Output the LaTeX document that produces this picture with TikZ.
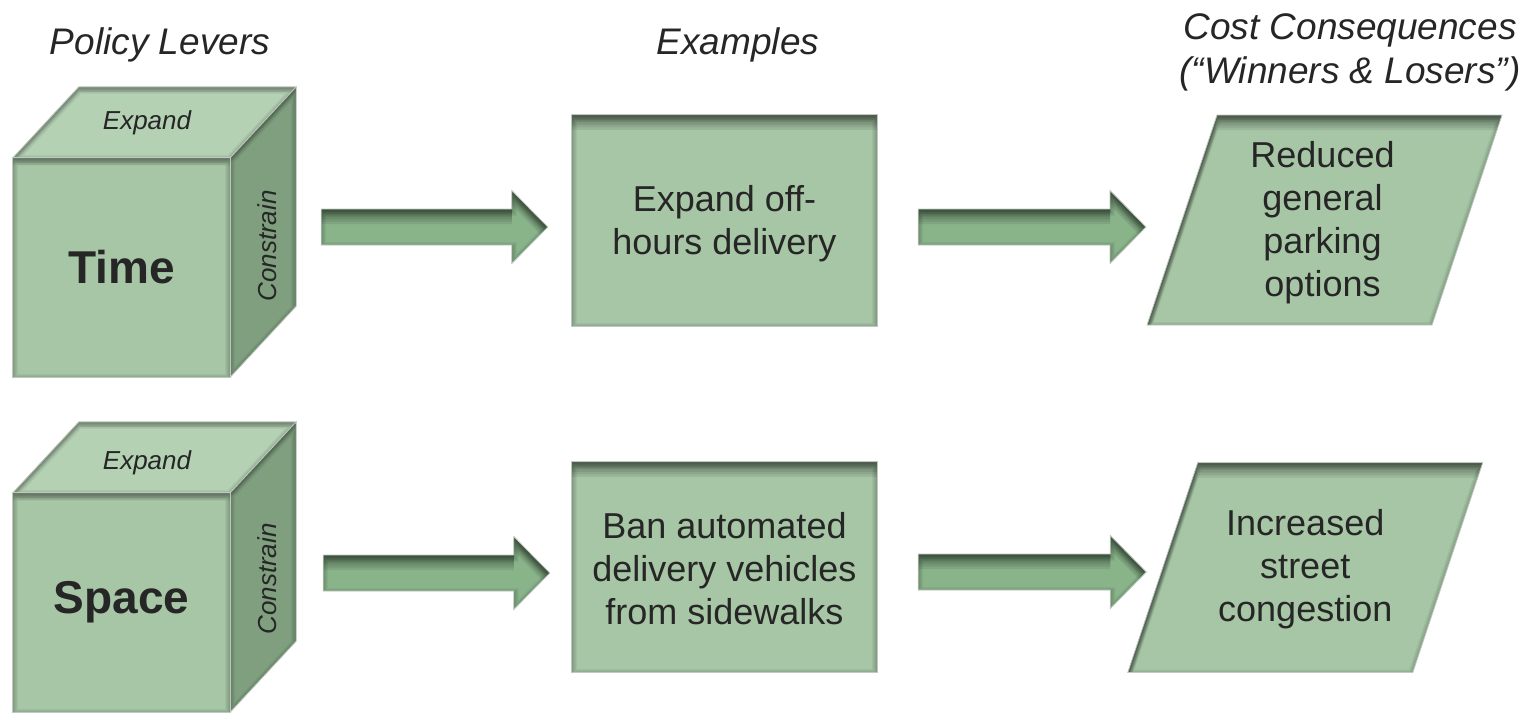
\documentclass[tikz,border=0pt]{standalone}
\usepackage{fontspec}
\setmainfont{Liberation Sans}
\usetikzlibrary{calc,backgrounds}

\definecolor{sage}{HTML}{A7C6A6}
\definecolor{sagetop}{HTML}{B5D1B4}
\definecolor{sageside}{HTML}{7F9F7F}
\definecolor{arrowgreen}{HTML}{89B48A}
\definecolor{txt}{HTML}{262626}
\definecolor{edgegray}{HTML}{BFC8BF}

% closed outline of a block arrow from a tail point to a tip point (same height)
\newcommand\blockarrow[2]{($(#1)+(0,-18)$) -- ($(#2)+(-36,-18)$) -- ($(#2)+(-36,-36.5)$) -- (#2) -- ($(#2)+(-36,36.5)$) -- ($(#2)+(-36,18)$) -- ($(#1)+(0,18)$) -- cycle}
% parallelogram leaning to the right around a centre node
\newcommand\slantbox[1]{($(#1)+(-107.5,-105)$) -- ($(#1)+(177.5,-105)$) -- ($(#1)+(107.5,105)$) -- ($(#1)+(-177.5,105)$) -- cycle}

% filled shape with a soft inner shadow falling from the top edge
\newcommand\innerglow[3]{%
  \fill[#2] #1;
  \begin{scope}
    \clip #1;
    \foreach \s in {1,...,#3}{
      \begin{scope}[transform canvas={yshift=-2.5pt*\s}]
        \fill[black, opacity=0.08, even odd rule] (-3000,-3000) rectangle (5000,5000) #1;
      \end{scope}
    }
    \begin{scope}[transform canvas={yshift=-2pt}]
      \foreach \w in {2,4,6,8,10}{\draw[black, opacity=0.045, line width=\w pt] #1;}
    \end{scope}
  \end{scope}
  \draw[edge] #1;}

\begin{document}
\begin{tikzpicture}[x=1pt, y=-1pt,
  lbl/.style={text=txt, align=center, inner sep=0pt},
  bodytext/.style={lbl, font=\fontsize{36}{43}\selectfont},
  title/.style={lbl, font=\fontsize{37}{44}\selectfont\itshape},
  cubelabel/.style={lbl, font=\fontsize{46}{55}\selectfont\bfseries,
                    minimum width=217pt, minimum height=219pt},
  facelabel/.style={lbl, font=\fontsize{26}{31}\selectfont\itshape},
  examplebox/.style={bodytext, minimum width=305pt, minimum height=211pt},
  edge/.style={draw=edgegray, line width=0.8pt},
]
\useasboundingbox (0,0) rectangle (1528,712);

% column headings
\node[title] (hlev) at (160,45) {Policy Levers};
\node[title] (hex) at (738,45) {Examples};
\node[title] (hcost) at (1350,52) {Cost Consequences\\(“Winners \& Losers”)};

% policy lever cubes (front faces)
\node[cubelabel] (time) at (121.5,267.5) {Time};
\node[cubelabel] (space) at (121.5,602.5) {Space};
\node[facelabel] (timeexp) at ($(time.north)+(25.5,-35)$) {Expand};
\node[facelabel, rotate=90] (timecon) at ($(time.east)+(37,-21.5)$) {Constrain};
\node[facelabel] (spaceexp) at ($(space.north)+(25.5,-30)$) {Expand};
\node[facelabel, rotate=90] (spacecon) at ($(space.east)+(37,-23.5)$) {Constrain};

% examples
\node[examplebox] (ex1) at (724.5,220.5) {};
\node[bodytext] (ex1t) at ($(ex1.center)+(0,3)$) {Expand off-\\hours delivery};
\node[examplebox, minimum height=210pt] (ex2) at (724.5,567) {};
\node[bodytext] (ex2t) at ($(ex2.center)+(0,2)$) {Ban automated\\delivery vehicles\\from sidewalks};

% consequences
\node[bodytext] (cc1) at (1324.5,220) {};
\node[bodytext] (cc1t) at ($(cc1.center)+(-2,3)$) {Reduced\\general\\parking\\options};
\node[bodytext] (cc2) at (1305.25,567.5) {};
\node[bodytext] (cc2t) at ($(cc2.center)+(0,2)$) {Increased\\street\\congestion};

% connector end points
\coordinate (a1tip) at ($(ex1.west)+(-24,6.5)$);
\coordinate (a1tail) at ($(time.east|-a1tip)+(91,0)$);
\coordinate (a2tail) at ($(ex1.east)+(41,6.5)$);
\coordinate (a2tip) at ($(cc1.center|-a2tail)+(-178.5,0)$);
\coordinate (a3tip) at ($(ex2.west)+(-22,6)$);
\coordinate (a3tail) at ($(space.east|-a3tip)+(93,0)$);
\coordinate (a4tail) at ($(ex2.east)+(41,5)$);
\coordinate (a4tip) at ($(cc2.center|-a4tail)+(-159,0)$);

\begin{scope}[on background layer]
  % cubes
  \foreach \c in {time,space}{
    \innerglow{(\c.north west) -- ($(\c.north west)+(66,-71)$) -- ($(\c.north east)+(66,-71)$) -- (\c.north east) -- cycle}{sagetop}{2}
    \innerglow{(\c.north east) -- ($(\c.north east)+(66,-71)$) -- ($(\c.south east)+(66,-71)$) -- (\c.south east) -- cycle}{sageside}{2}
    \innerglow{(\c.north west) rectangle (\c.south east)}{sage}{3}
  }
  % example boxes
  \innerglow{(ex1.north west) rectangle (ex1.south east)}{sage}{6}
  \innerglow{(ex2.north west) rectangle (ex2.south east)}{sage}{6}
  % consequence parallelograms
  \innerglow{\slantbox{cc1}}{sage}{6}
  \innerglow{\slantbox{cc2}}{sage}{6}
  % block arrows
  \innerglow{\blockarrow{a1tail}{a1tip}}{arrowgreen}{6}
  \innerglow{\blockarrow{a2tail}{a2tip}}{arrowgreen}{6}
  \innerglow{\blockarrow{a3tail}{a3tip}}{arrowgreen}{6}
  \innerglow{\blockarrow{a4tail}{a4tip}}{arrowgreen}{6}
\end{scope}
\end{tikzpicture}
\end{document}
